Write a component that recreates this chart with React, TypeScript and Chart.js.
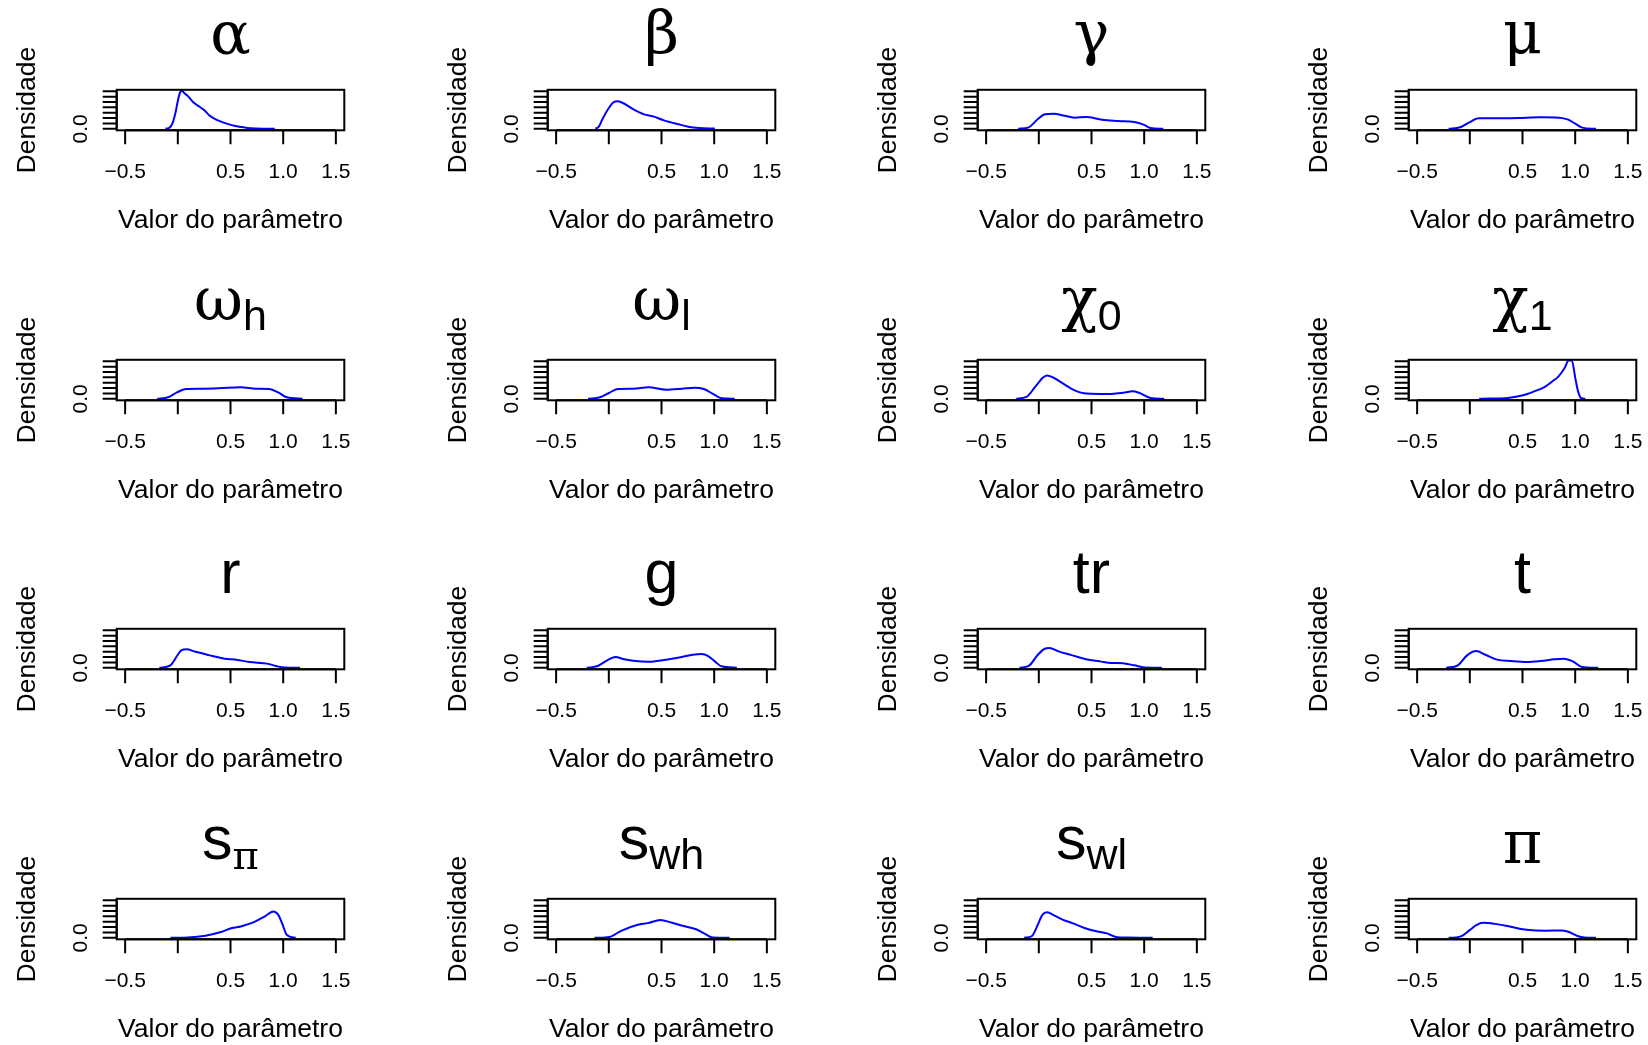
import { useEffect, useRef } from "react";
import { Chart, registerables } from "chart.js";

Chart.register(...registerables);

const SANS = '"Liberation Sans", Arial, Helvetica, sans-serif';
const SERIF = '"DejaVu Serif", "Liberation Serif", serif';

// Axis ticks (only "0.0" fits on the crowded density axis)
const xTicks = [-0.5, 0, 0.5, 1, 1.5];
const xTickLabels = ["\u22120.5", "", "0.5", "1.0", "1.5"];
const yTicks = [0, 0.5, 1, 1.5, 2, 2.5, 3, 3.5];
const yTickLabels = ["0.0", "", "", "", "", "", "", ""];
const xLabel = "Valor do parâmetro";
const yLabel = "Densidade";

// Posterior densities: [parameter value, density]
const densAlpha = [[-0.117, 0], [-0.08, 0.1], [-0.05, 0.54], [-0.02, 1.6], [0.0, 2.6], [0.02, 3.35], [0.035, 3.58], [0.06, 3.35], [0.1, 3.0], [0.15, 2.45], [0.2, 2.1], [0.25, 1.75], [0.3, 1.25], [0.36, 0.88], [0.43, 0.6], [0.52, 0.32], [0.6, 0.17], [0.66, 0.08], [0.75, 0.03], [0.92, 0]];
const densBeta = [[-0.126, 0], [-0.095, 0.2], [-0.063, 0.85], [0, 1.94], [0.042, 2.46], [0.084, 2.56], [0.147, 2.34], [0.23, 1.84], [0.335, 1.35], [0.419, 1.16], [0.524, 0.79], [0.65, 0.45], [0.754, 0.2], [0.859, 0.08], [1.006, 0.02]];
const densGamma = [[-0.196, 0], [-0.096, 0.14], [-0.009, 0.91], [0.057, 1.35], [0.144, 1.41], [0.231, 1.25], [0.34, 1.04], [0.449, 1.1], [0.601, 0.85], [0.754, 0.73], [0.906, 0.63], [0.993, 0.39], [1.059, 0.08], [1.181, 0]];
const densMu = [[-0.201, 0], [-0.092, 0.14], [-0.004, 0.6], [0.083, 0.98], [0.236, 0.98], [0.454, 1.01], [0.672, 1.07], [0.847, 1.04], [0.934, 0.85], [1.0, 0.48], [1.066, 0.11], [1.197, 0]];
const densOmegaH = [[-0.196, 0], [-0.092, 0.14], [-0.008, 0.6], [0.075, 0.91], [0.221, 0.94], [0.388, 0.98], [0.597, 1.07], [0.743, 0.94], [0.868, 0.91], [0.952, 0.6], [1.035, 0.14], [1.182, 0]];
const densOmegaL = [[-0.197, 0], [-0.084, 0.14], [0, 0.54], [0.084, 0.91], [0.231, 0.94], [0.377, 1.07], [0.545, 0.85], [0.692, 0.94], [0.817, 1.04], [0.901, 0.91], [0.985, 0.48], [1.069, 0.05], [1.194, 0]];
const densChi0 = [[-0.214, 0], [-0.118, 0.17], [-0.031, 1.16], [0.035, 1.94], [0.078, 2.18], [0.144, 1.94], [0.231, 1.41], [0.34, 0.79], [0.427, 0.51], [0.58, 0.45], [0.71, 0.48], [0.819, 0.6], [0.885, 0.7], [0.95, 0.57], [1.059, 0.08], [1.19, 0]];
const densChi1 = [[0.089, 0], [0.2, 0.02], [0.361, 0.08], [0.505, 0.33], [0.6, 0.65], [0.712, 1.12], [0.8, 1.75], [0.84, 2.07], [0.904, 2.95], [0.936, 3.58], [0.968, 3.58], [1.0, 2.0], [1.026, 0.74], [1.058, 0.05], [1.096, 0]];
const densR = [[-0.175, 0], [-0.071, 0.23], [-0.008, 1.1], [0.033, 1.63], [0.084, 1.72], [0.159, 1.53], [0.305, 1.16], [0.472, 0.82], [0.555, 0.76], [0.681, 0.54], [0.848, 0.39], [0.931, 0.17], [1.015, 0.02], [1.161, 0]];
const densG = [[-0.21, 0], [-0.105, 0.17], [0, 0.79], [0.063, 1.01], [0.147, 0.79], [0.251, 0.63], [0.377, 0.57], [0.524, 0.73], [0.692, 1.01], [0.796, 1.22], [0.88, 1.29], [0.943, 1.1], [1.006, 0.6], [1.069, 0.14], [1.215, 0]];
const densTr = [[-0.183, 0], [-0.096, 0.17], [-0.009, 1.22], [0.057, 1.78], [0.1, 1.84], [0.187, 1.53], [0.318, 1.16], [0.449, 0.79], [0.58, 0.6], [0.688, 0.45], [0.797, 0.42], [0.906, 0.23], [1.015, 0.02], [1.168, 0]];
const densT = [[-0.223, 0], [-0.114, 0.23], [-0.026, 1.16], [0.061, 1.56], [0.148, 1.22], [0.258, 0.76], [0.389, 0.63], [0.541, 0.54], [0.672, 0.63], [0.803, 0.79], [0.891, 0.85], [0.978, 0.6], [1.066, 0.08], [1.218, 0]];
const densSPi = [[-0.07, 0], [0.096, 0.03], [0.263, 0.2], [0.409, 0.54], [0.514, 0.91], [0.597, 1.06], [0.722, 1.46], [0.827, 2.01], [0.906, 2.45], [0.952, 2.16], [0.994, 1.24], [1.035, 0.26], [1.119, 0]];
const densSWh = [[-0.136, 0], [0.006, 0.08], [0.117, 0.65], [0.275, 1.21], [0.37, 1.37], [0.49, 1.66], [0.592, 1.43], [0.7, 1.12], [0.829, 0.8], [0.908, 0.39], [0.987, 0.02], [1.146, 0]];
const densSWl = [[-0.139, 0], [-0.065, 0.17], [-0.009, 1.24], [0.035, 2.16], [0.078, 2.38], [0.144, 2.1], [0.231, 1.67], [0.318, 1.37], [0.427, 0.94], [0.536, 0.63], [0.645, 0.41], [0.732, 0.08], [0.841, 0.02], [1.081, 0]];
const densPi = [[-0.201, 0], [-0.092, 0.11], [-0.004, 0.69], [0.061, 1.18], [0.127, 1.4], [0.236, 1.3], [0.389, 1.03], [0.541, 0.75], [0.716, 0.66], [0.869, 0.69], [0.934, 0.57], [1.022, 0.17], [1.087, 0.02], [1.197, 0]];

type Title = { main: string; mainSerif: boolean; sub?: string; subSerif?: boolean };
type Panel = { title: Title; data: number[][] };

const panels: Panel[] = [
  { title: { main: "α", mainSerif: true }, data: densAlpha },
  { title: { main: "β", mainSerif: true }, data: densBeta },
  { title: { main: "γ", mainSerif: true }, data: densGamma },
  { title: { main: "μ", mainSerif: true }, data: densMu },
  { title: { main: "ω", mainSerif: true, sub: "h", subSerif: false }, data: densOmegaH },
  { title: { main: "ω", mainSerif: true, sub: "l", subSerif: false }, data: densOmegaL },
  { title: { main: "χ", mainSerif: true, sub: "0", subSerif: false }, data: densChi0 },
  { title: { main: "χ", mainSerif: true, sub: "1", subSerif: false }, data: densChi1 },
  { title: { main: "r", mainSerif: false }, data: densR },
  { title: { main: "g", mainSerif: false }, data: densG },
  { title: { main: "tr", mainSerif: false }, data: densTr },
  { title: { main: "t", mainSerif: false }, data: densT },
  { title: { main: "s", mainSerif: false, sub: "π", subSerif: true }, data: densSPi },
  { title: { main: "s", mainSerif: false, sub: "wh", subSerif: false }, data: densSWh },
  { title: { main: "s", mainSerif: false, sub: "wl", subSerif: false }, data: densSWl },
  { title: { main: "π", mainSerif: true }, data: densPi },
];

// Panel geometry
const W = 431;
const H = 270;
const COL_X = [0, 431, 861, 1292];
const ROW_Y = [0, 270, 539, 809];
const BOX = { left: 116.7, right: 344.3, top: 89.8, bottom: 130.3 };
const X_MIN = -0.5 - 0.04 * 2;
const X_MAX = 1.5 + 0.04 * 2;
const Y_TOP = 3.5;
const Y_MIN = -0.04 * Y_TOP;
const Y_MAX = 1.04 * Y_TOP;

const SANS_TITLE = 61;
const SERIF_TITLE = 60;
const SANS_SUB = 43;
const SERIF_SUB = 40;
const TICK_FONT = `21px ${SANS}`;
const LABEL_FONT = `26.5px ${SANS}`;

function drawTitle(ctx: CanvasRenderingContext2D, t: Title, cx: number) {
  const mainFont = t.mainSerif ? `${SERIF_TITLE}px ${SERIF}` : `${SANS_TITLE}px ${SANS}`;
  const subFont = t.subSerif ? `${SERIF_SUB}px ${SERIF}` : `${SANS_SUB}px ${SANS}`;
  ctx.font = mainFont;
  const wm = ctx.measureText(t.main).width;
  let ws = 0;
  if (t.sub) {
    ctx.font = subFont;
    ws = ctx.measureText(t.sub).width;
  }
  const x0 = cx - (wm + ws) / 2;
  const base = t.sub ? 50 : 54;
  ctx.textAlign = "left";
  ctx.textBaseline = "alphabetic";
  ctx.font = mainFont;
  ctx.fillText(t.main, x0, base);
  if (t.sub) {
    ctx.font = subFont;
    ctx.fillText(t.sub, x0 + wm, base + 10);
  }
}

const rFrame = {
  id: "rFrame",
  afterDraw(chart: any, _args: any, opts: any) {
    const { ctx, chartArea: a, scales } = chart;
    const xs = scales.x;
    const ys = scales.y;
    ctx.save();
    ctx.strokeStyle = "#000";
    ctx.fillStyle = "#000";
    ctx.lineWidth = 2;
    ctx.lineCap = "butt";

    // plot box
    ctx.strokeRect(a.left, a.top, a.right - a.left, a.bottom - a.top);

    // x axis
    ctx.beginPath();
    ctx.moveTo(xs.getPixelForValue(xTicks[0]), a.bottom);
    ctx.lineTo(xs.getPixelForValue(xTicks[xTicks.length - 1]), a.bottom);
    xTicks.forEach((v) => {
      const px = xs.getPixelForValue(v);
      ctx.moveTo(px, a.bottom);
      ctx.lineTo(px, a.bottom + 14);
    });
    ctx.stroke();
    ctx.font = TICK_FONT;
    ctx.textAlign = "center";
    ctx.textBaseline = "alphabetic";
    xTicks.forEach((v, i) => {
      if (xTickLabels[i]) ctx.fillText(xTickLabels[i], xs.getPixelForValue(v), a.bottom + 48);
    });

    // y axis
    ctx.beginPath();
    ctx.moveTo(a.left, ys.getPixelForValue(yTicks[0]));
    ctx.lineTo(a.left, ys.getPixelForValue(yTicks[yTicks.length - 1]));
    yTicks.forEach((v) => {
      const py = ys.getPixelForValue(v);
      ctx.moveTo(a.left, py);
      ctx.lineTo(a.left - 14, py);
    });
    ctx.stroke();
    yTicks.forEach((v, i) => {
      if (!yTickLabels[i]) return;
      ctx.save();
      ctx.translate(a.left - 30, ys.getPixelForValue(v));
      ctx.rotate(-Math.PI / 2);
      ctx.textAlign = "center";
      ctx.fillText(yTickLabels[i], 0, 0);
      ctx.restore();
    });

    // axis titles
    const cx = (a.left + a.right) / 2;
    ctx.font = LABEL_FONT;
    ctx.textAlign = "center";
    ctx.fillText(xLabel, cx, 228);
    ctx.save();
    ctx.translate(35, (a.top + a.bottom) / 2);
    ctx.rotate(-Math.PI / 2);
    ctx.fillText(yLabel, 0, 0);
    ctx.restore();

    drawTitle(ctx, opts.title, cx);
    ctx.restore();
  },
};

function DensityPanel({ panel, left, top }: { panel: Panel; left: number; top: number }) {
  const ref = useRef<HTMLCanvasElement>(null);
  useEffect(() => {
    const chart = new Chart(ref.current as HTMLCanvasElement, {
      type: "line",
      data: {
        datasets: [
          {
            data: panel.data.map(([x, y]) => ({ x, y })),
            borderColor: "#0000ff",
            borderWidth: 2,
            pointRadius: 0,
            cubicInterpolationMode: "monotone",
            fill: false,
          },
        ],
      },
      options: {
        responsive: false,
        animation: false,
        devicePixelRatio: 1,
        events: [],
        layout: {
          padding: { left: BOX.left, right: W - BOX.right, top: BOX.top, bottom: H - BOX.bottom },
        },
        scales: {
          x: { type: "linear", min: X_MIN, max: X_MAX, display: false },
          y: { type: "linear", min: Y_MIN, max: Y_MAX, display: false },
        },
        plugins: {
          legend: { display: false },
          tooltip: { enabled: false },
          rFrame: { title: panel.title },
        } as any,
      },
      plugins: [rFrame],
    } as any);
    return () => chart.destroy();
  }, [panel]);
  return (
    <canvas
      ref={ref}
      width={W}
      height={H}
      style={{ position: "absolute", left, top, width: W, height: H }}
    />
  );
}

export default function App() {
  return (
    <div
      style={{
        position: "absolute",
        left: 0,
        top: 0,
        width: 1648,
        height: 1045,
        overflow: "hidden",
        background: "#fff",
      }}
    >
      {panels.map((p, i) => (
        <DensityPanel key={i} panel={p} left={COL_X[i % 4]} top={ROW_Y[Math.floor(i / 4)]} />
      ))}
    </div>
  );
}
